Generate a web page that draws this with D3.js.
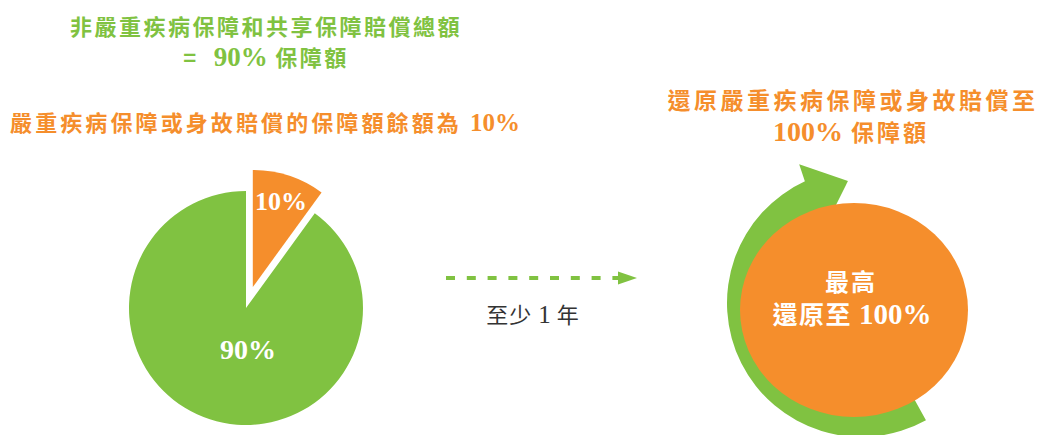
<!DOCTYPE html>
<html>
<head>
<meta charset="utf-8">
<script src="https://cdn.jsdelivr.net/npm/d3@7"></script>
<style>
  html, body { margin: 0; padding: 0; background: #fff; }
  svg { display: block; }
  .t { font-family: 'Noto Sans CJK TC', sans-serif; font-weight: 700; }
  .num { font-family: 'Liberation Serif', serif; font-weight: 700; }
  .light, .light .num { font-weight: 400; }
</style>
</head>
<body>
<svg id="chart" width="1039" height="435"></svg>
<script>
// ---- data ----
const leftTitleLines = ["非嚴重疾病保障和共享保障賠償總額", "=  90% 保障額"];
const leftSubtitle = "嚴重疾病保障或身故賠償的保障額餘額為 10%";
const rightTitleLines = ["還原嚴重疾病保障或身故賠償至", "100% 保障額"];
const sliceNames = ["嚴重疾病保障或身故賠償", "非嚴重疾病保障和共享保障"];
const sliceValues = [10, 90];
const sliceLabels = ["10%", "90%"];
const periodLabel = "至少 1 年";
const restoredLines = ["最高", "還原至 100%"];
const restoredValue = [100];

const GREEN = "#80C241";
const ORANGE = "#F58E2C";

const svg = d3.select("#chart");

// mixed-script text: CJK runs in sans, digit runs in serif
function mixed(sel, str, o) {
  const parts = str.match(/[0-9%]+|[^0-9%]+/g);
  sel.selectAll("tspan").data(parts).join("tspan")
    .attr("class", d => /[0-9%]/.test(d) ? "num" : null)
    .attr("font-size", d => /[0-9%]/.test(d) ? o.num : o.cjk)
    .attr("letter-spacing", d => /[0-9%]/.test(d) ? (o.numLs || 0) : o.ls)
    .style("white-space", "pre")
    .text(d => d);
}

function line(x, y, str, fill, o, cls) {
  const t = svg.append("text").attr("class", cls || "t")
    .attr("x", x).attr("y", y)
    .attr("text-anchor", "middle")
    .attr("fill", fill)
    .style("white-space", "pre");
  mixed(t, str, o);
  return t;
}

// ---- titles ----
line(266, 35, leftTitleLines[0], GREEN, { cjk: 22, num: 26, ls: 2.5 });
line(266, 66, leftTitleLines[1], GREEN, { cjk: 22, num: 27, ls: 2.5 });
line(265, 131, leftSubtitle, ORANGE, { cjk: 22, num: 25, ls: 3.1 });
line(853, 109, rightTitleLines[0], ORANGE, { cjk: 23, num: 27, ls: 3.5 });
line(851, 141, rightTitleLines[1], ORANGE, { cjk: 23, num: 28, ls: 3 });

// ---- pie ----
const pieC = [246, 308];
const R = 117;
const explode = 22;
const pie = d3.pie().sort(null).value(d => d)(sliceValues);
const arc = d3.arc().innerRadius(0).outerRadius(R);
const colors = d3.scaleOrdinal().domain(sliceNames).range([ORANGE, GREEN]);

const pg = svg.append("g").attr("transform", `translate(${pieC[0]},${pieC[1]})`);
const slices = pg.selectAll("g.s").data(pie).join("g")
  .attr("class", "s")
  .attr("transform", (d, i) => {
    if (i !== 0) return null;
    const a = (d.startAngle + d.endAngle) / 2;
    return `translate(${Math.sin(a) * explode},${-Math.cos(a) * explode})`;
  });
slices.append("path")
  .attr("d", arc)
  .attr("fill", (d, i) => colors(sliceNames[i]));

slices.append("text").attr("class", "num")
  .attr("transform", (d, i) => {
    if (i === 0) {
      const a = (d.startAngle + d.endAngle) / 2;
      const r = 91;
      return `translate(${Math.sin(a) * r},${-Math.cos(a) * r})`;
    }
    return `translate(2,41)`;
  })
  .attr("text-anchor", "middle")
  .attr("dy", "0.35em")
  .attr("fill", "#fff")
  .attr("font-size", (d, i) => i === 0 ? 26 : 28)
  .text((d, i) => sliceLabels[i]);

// ---- dashed arrow ----
const ay = 278;
const ax = d3.scaleLinear().domain([0, 1]).range([446, 637]);
svg.append("line")
  .attr("x1", ax(0)).attr("x2", ax(1) - 18)
  .attr("y1", ay).attr("y2", ay)
  .attr("stroke", GREEN).attr("stroke-width", 4)
  .attr("stroke-dasharray", "9 11.8");
svg.append("path")
  .attr("d", d3.line()([[ax(1) - 19, ay - 6.5], [ax(1), ay], [ax(1) - 19, ay + 6.5]]) + "Z")
  .attr("fill", GREEN);

line(533, 323, periodLabel, "#333", { cjk: 22, num: 25, ls: 1 }, "t light");

// ---- restored circle with circular arrow ----
const cc = [861, 303];
const deg = Math.PI / 180;
const rg = svg.append("g").attr("transform", `translate(${cc[0]},${cc[1]})`);
const band = d3.arc().innerRadius(100).outerRadius(134)
  .startAngle(151 * deg).endAngle(335.5 * deg);
rg.append("path").attr("d", band()).attr("fill", GREEN);

svg.selectAll("ellipse.full").data(restoredValue).join("ellipse")
  .attr("class", "full")
  .attr("cx", 854).attr("cy", 310)
  .attr("rx", 114).attr("ry", 107)
  .attr("fill", ORANGE);

const polar = (r, a) => [Math.sin(a * deg) * r, -Math.cos(a * deg) * r];
rg.append("path")
  .attr("d", d3.line()([polar(152, -24), polar(122.7, -6.1), polar(80, -29.1)]) + "Z")
  .attr("fill", GREEN);

line(851, 291, restoredLines[0], "#fff", { cjk: 24, num: 28, ls: 2 });
line(852, 324, restoredLines[1], "#fff", { cjk: 25, num: 29, ls: 1.5 });
</script>
</body>
</html>
